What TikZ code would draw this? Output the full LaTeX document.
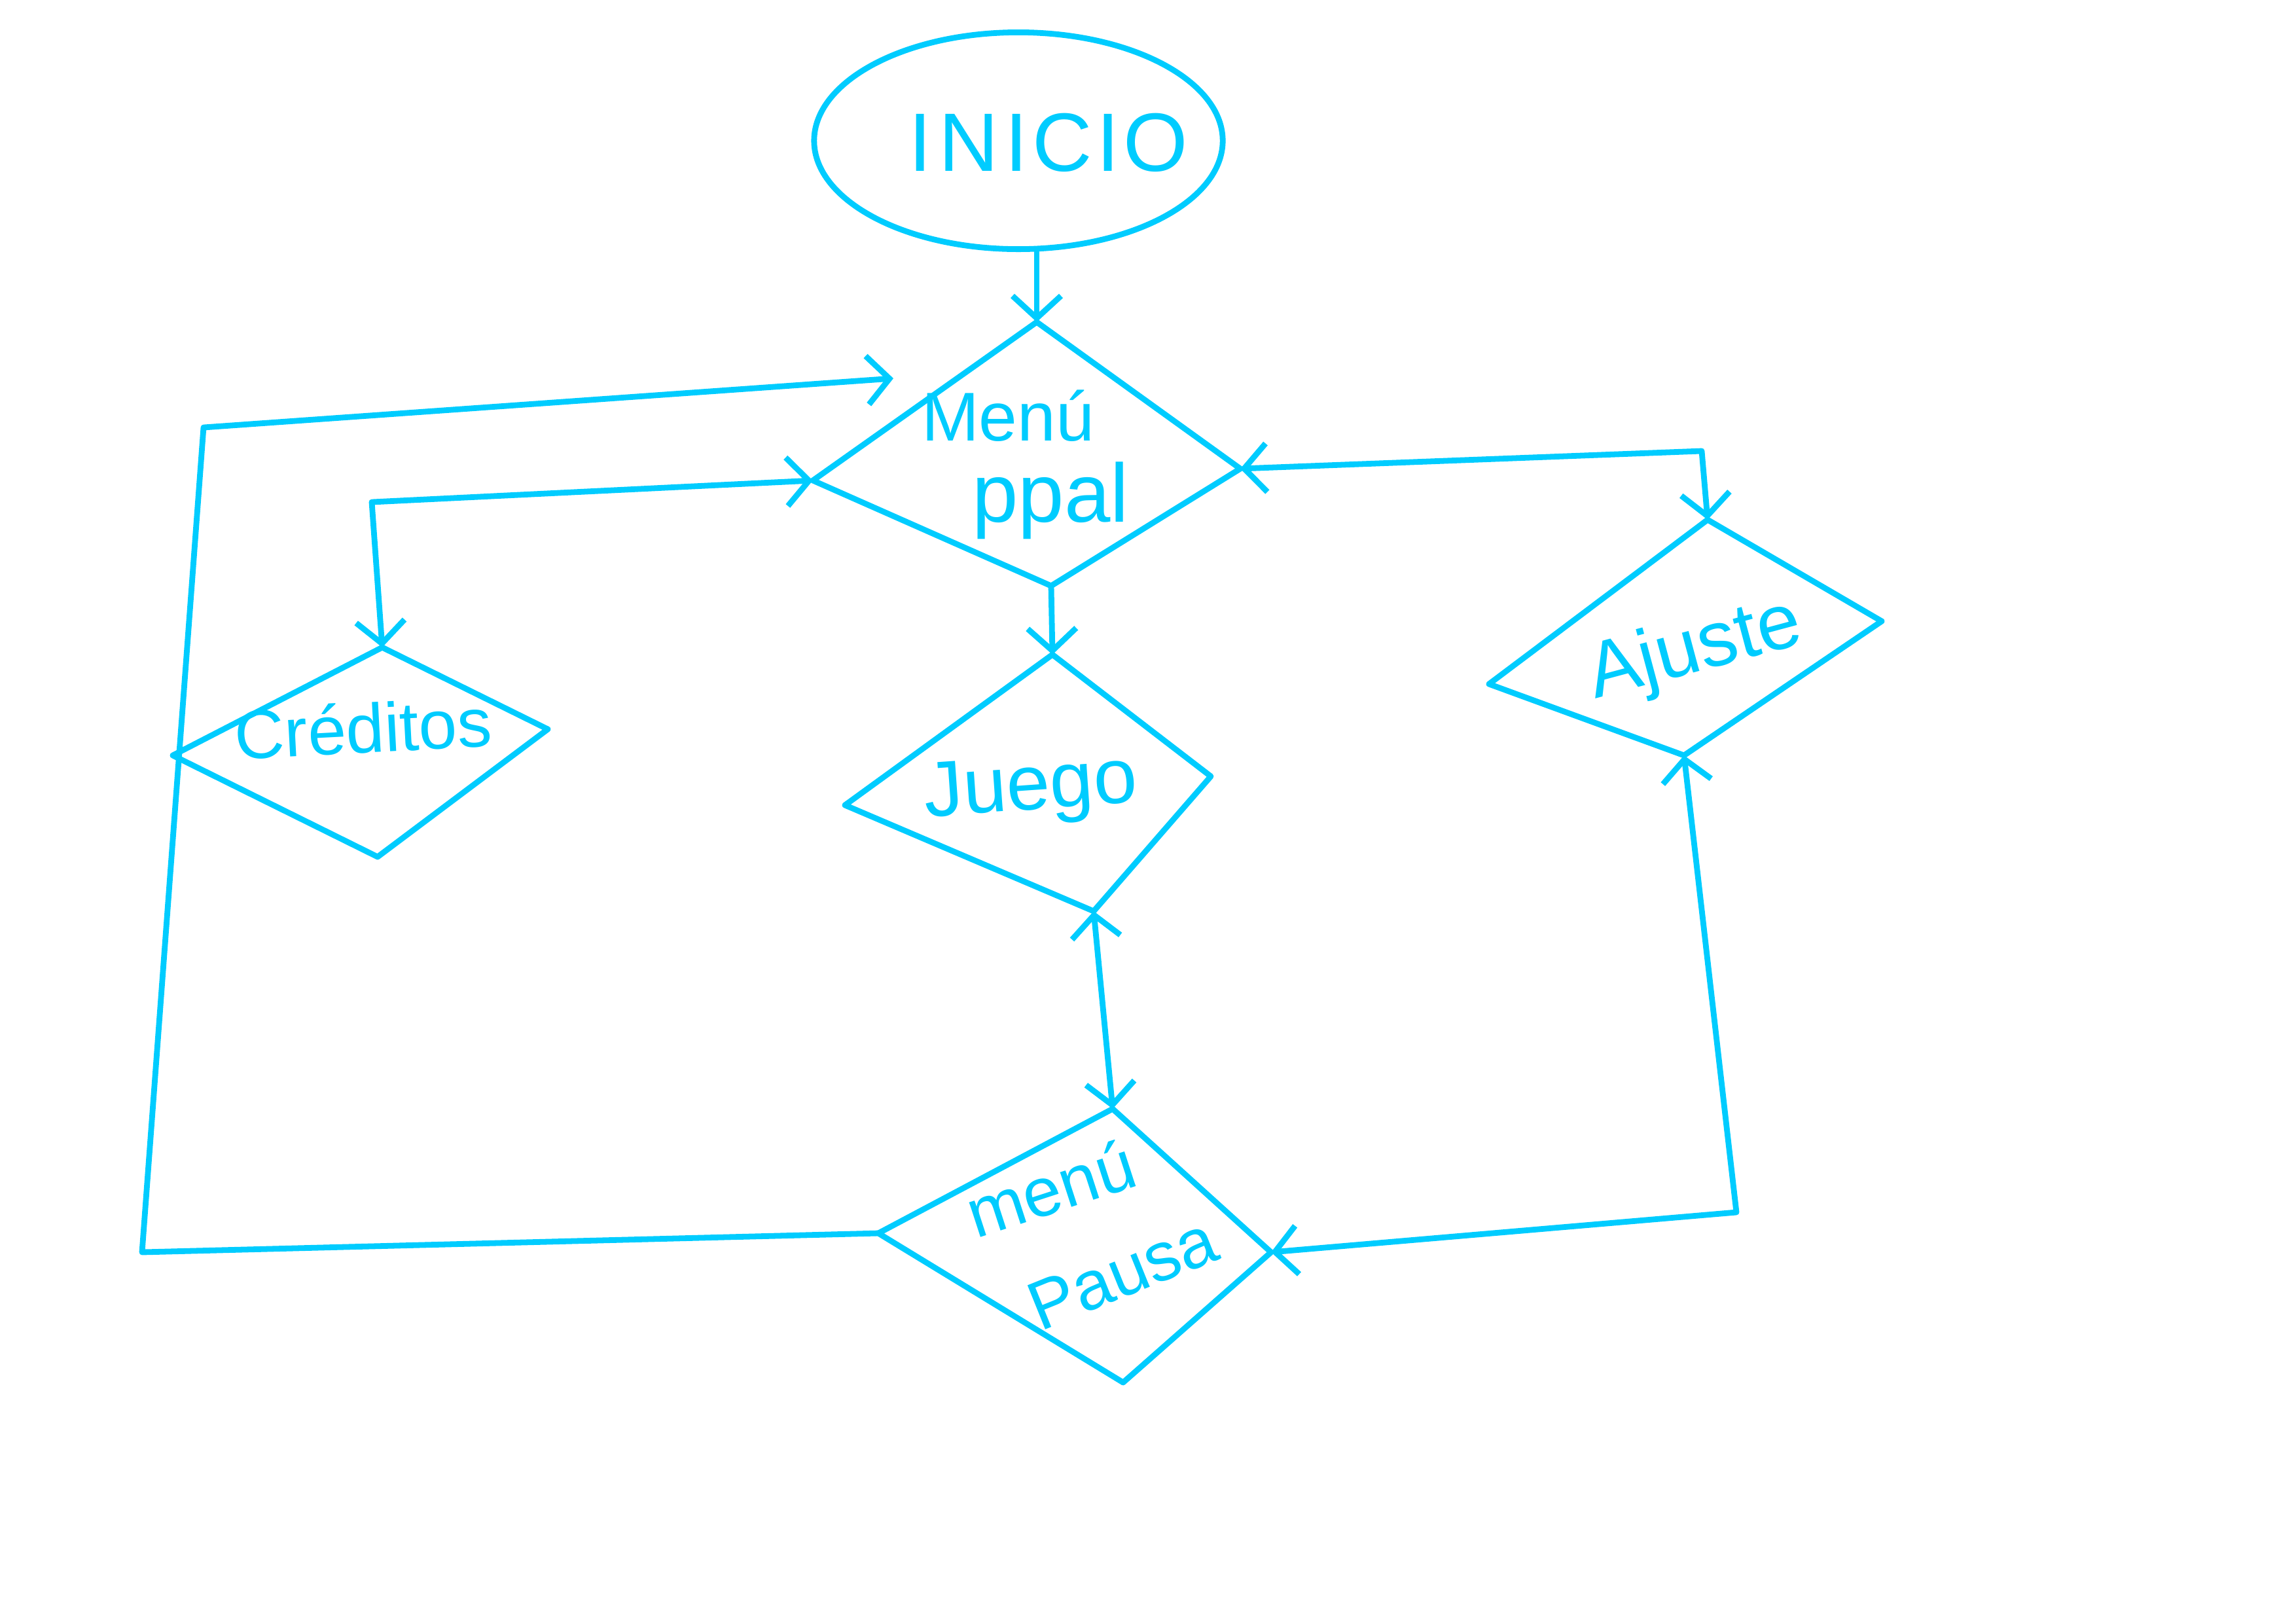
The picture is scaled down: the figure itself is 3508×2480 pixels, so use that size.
\documentclass[tikz,border=0pt]{standalone}
\usepackage{fontspec}
\setmainfont{Liberation Sans}
\usetikzlibrary{arrows.meta,shapes.geometric}
\definecolor{cy}{RGB}{0,204,255}
\begin{document}
\begin{tikzpicture}[x=0.01cm,y=-0.01cm,
  shapeline/.style={draw=cy, line width=2.5pt, line join=round, line cap=round},
  conn/.style={shapeline, -{Straight Barb[length=0.34cm,width=0.74cm,line width=2.5pt]}},
  biconn/.style={shapeline, {Straight Barb[length=0.34cm,width=0.74cm,line width=2.5pt]}-{Straight Barb[length=0.34cm,width=0.74cm,line width=2.5pt]}},
  lbl/.style={text=cy, inner sep=0pt, font=\fontsize{30}{36}\selectfont, align=center}]
\useasboundingbox (0,0) rectangle (3508,2480);
% start
\node[ellipse, shapeline, minimum width=6.24cm, minimum height=3.31cm] (inicio) at (1556,215) {};
\node[lbl, font=\fontsize{36}{40}\selectfont] (inicioText) at (1602,218) {I\hspace{0.08em}N\hspace{0.08em}I\hspace{0.05em}C\hspace{0.05em}I\hspace{0.05em}O};
% menu ppal
\coordinate (mT) at (1584,492);
\coordinate (mR) at (1895,716);
\coordinate (mB) at (1606,895);
\coordinate (mL) at (1242,734);
\draw[shapeline] (mT) -- (mR) -- (mB) -- (mL) -- cycle;
\node[lbl] (menuText1) at (1540,635) {Menú};
\node[lbl, font=\fontsize{36}{40}\selectfont] (menuText2) at (1605,765) {ppal};
% creditos
\coordinate (cT) at (584,989);
\coordinate (cR) at (837,1114);
\coordinate (cB) at (577,1309);
\coordinate (cL) at (264,1154);
\draw[shapeline] (cT) -- (cR) -- (cB) -- (cL) -- cycle;
\node[lbl, rotate=3] (credText) at (555,1112) {Créditos};
% juego
\coordinate (jT) at (1608,1000);
\coordinate (jR) at (1850,1186);
\coordinate (jB) at (1671,1392);
\coordinate (jL) at (1291,1230);
\draw[shapeline] (jT) -- (jR) -- (jB) -- (jL) -- cycle;
\node[lbl, font=\fontsize{34}{40}\selectfont, rotate=4] (juegoText) at (1575,1208) {Juego};
% ajuste
\coordinate (aT) at (2609,794);
\coordinate (aR) at (2875,949);
\coordinate (aB) at (2573,1154);
\coordinate (aL) at (2275,1045);
\draw[shapeline] (aT) -- (aR) -- (aB) -- (aL) -- cycle;
\node[lbl, font=\fontsize{34}{40}\selectfont, rotate=15] (ajusteText) at (2590,995) {Ajuste};
% menu pausa
\coordinate (pT) at (1700,1694);
\coordinate (pR) at (1942,1913);
\coordinate (pB) at (1716,2112);
\coordinate (pL) at (1342,1884);
\draw[shapeline] (pT) -- (pR) -- (pB) -- (pL) -- cycle;
\node[lbl, rotate=18] (pausaText1) at (1605,1815) {menú};
\node[lbl, rotate=22] (pausaText2) at (1715,1945) {Pausa};
% bend points
\coordinate (k1) at (568,767);
\coordinate (k2) at (217,1913);
\coordinate (k3) at (311,653);
\coordinate (menuIn) at (1365,578);
\coordinate (k4) at (2600,689);
\coordinate (k5) at (2653,1852);
% connectors
\draw[conn] (mT |- inicio.south) -- (mT);
\draw[biconn] (mL) -- (k1) -- (cT);
\draw[conn] (pL) -- (k2) -- (k3) -- (menuIn);
\draw[biconn] (mR) -- (k4) -- (aT);
\draw[conn] (mB) -- (jT);
\draw[biconn] (jB) -- (pT);
\draw[biconn] (pR) -- (k5) -- (aB);
\end{tikzpicture}
\end{document}
